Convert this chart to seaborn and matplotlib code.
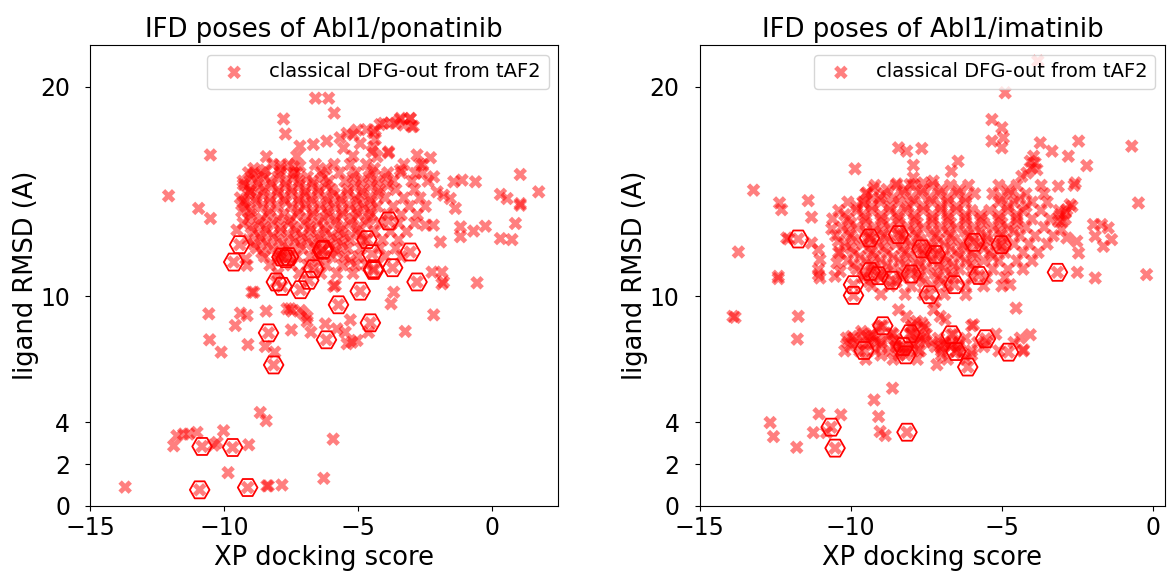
import matplotlib
matplotlib.use("Agg")
import matplotlib.pyplot as plt
import numpy as np
import pandas as pd
import seaborn as sns

# ---------------- Abl1 / ponatinib ----------------
# isolated poses: (XP docking score, ligand RMSD)
pona_scattered = [
    (-13.7, 0.9), (-11.77, 3.35), (-11.52, 3.43), (-11.33, 3.43), (-11.02, 3.51),
    (-10.03, 3.59), (-11.89, 2.87), (-10.27, 3.03), (-10.4, 2.9), (-9.09, 2.92),
    (-8.66, 4.46), (-8.44, 4.07), (-5.94, 3.19), (-9.86, 1.59), (-6.29, 1.32),
    (-8.41, 0.96), (-8.36, 0.96), (-7.85, 1.0),
    (-10.58, 9.17), (-9.59, 8.61), (-9.40, 9.20), (-9.15, 9.09), (-8.97, 10.2),
    (-8.44, 9.30), (-10.55, 7.93), (-10.12, 7.34), (-9.12, 7.70), (-8.47, 7.61),
    (-8.12, 7.34), (-7.66, 9.41), (-7.48, 9.3), (-7.16, 9.33), (-7.50, 8.40),
    (-6.91, 9.01), (-6.91, 8.8), (-6.77, 8.29), (-6.23, 8.69), (-5.86, 10.53),
    (-5.80, 8.45), (-5.49, 8.29), (-5.30, 8.88), (-5.24, 7.81), (-5.05, 7.9),
    (-4.62, 8.29), (-3.78, 9.65), (-3.68, 10.2), (-3.25, 8.33), (-2.19, 9.12),
    (-1.88, 10.6), (-0.57, 10.65), (-8.90, 10.2), (-5.92, 10.48), (-7.54, 9.41),
    (-7.04, 9.17), (-5.42, 7.74), (-2.25, 11.16), (-1.88, 11.16), (-1.82, 10.69),
    (-9.15, 11.48), (-9.2, 11.8), (-9.53, 13.16),
    (-12.08, 14.8), (-10.96, 14.2), (-10.52, 13.72), (-10.52, 16.75), (-8.43, 16.67),
    (-8.47, 16.03), (-7.91, 16.27), (-8.90, 15.87), (-7.41, 16.19), (-7.79, 18.47),
    (-7.72, 17.75), (-6.60, 19.46), (-6.11, 19.46), (-5.90, 18.75),
    (-3.43, 18.5), (-3.06, 18.5), (-3.62, 18.26), (-3.31, 18.18), (-3.0, 18.1),
    (-4.06, 18.26), (-5.05, 17.94), (-4.37, 17.94), (-4.37, 17.5), (-4.49, 16.9),
    (-4.30, 16.67), (-4.43, 17.14), (-4.93, 17.3), (-3.87, 16.9), (-2.81, 16.75),
    (-2.31, 16.62), (-3.43, 16.03), (-2.87, 15.87), (-2.19, 15.71), (-2.6, 16.3),
    (-1.13, 15.55), (-0.63, 15.47), (1.04, 15.82), (0.30, 14.87), (0.55, 14.67),
    (1.73, 14.99), (1.04, 14.43), (-1.44, 15.47), (-1.57, 14.67), (-1.38, 14.2),
    (-2.06, 14.99), (-1.82, 14.83), (-5.42, 17.78), (-5.55, 17.07), (-5.2, 16.7),
    (-2.5, 13.4), (-2.2, 13.4), (-1.94, 12.6), (-1.19, 13.32), (-1.19, 12.85),
    (-0.70, 13.12), (-0.26, 13.35), (0.30, 12.76), (0.73, 12.71), (0.86, 13.48),
    (1.04, 14.35),
    (-7.18, 17.17), (-6.68, 17.25), (-6.18, 17.41), (-5.68, 17.57), (-5.19, 17.72),
    (-4.69, 17.96), (-4.19, 18.2), (-3.82, 18.28), (-3.44, 18.44), (-3.07, 18.48),
    (-2.95, 18.12), (-4.44, 17.81), (-7.30, 16.69), (-7.18, 16.21), (-7.43, 15.9),
    (-3.88, 16.85), (-9.29, 15.34), (-9.04, 15.02), (-9.23, 14.54), (-9.35, 14.06),
]

# dense core of the pose cloud, row by row: (ligand RMSD, [XP docking scores])
pona_core_rows = [
    (16.3, [-8.2, -7.6, -6.6, -5.9, -5.3, -4.7, -3.3, -2.7]),
    (16.1, [-8.9, -7.9, -6.2, -4.4]),
    (15.9, [-9.1, -8.6, -7.9, -7.3, -6.4, -5.7, -5.1, -4.5, -3.9, -3.4, -2.6]),
    (15.7, [-9.0, -8.5, -8.0, -7.4, -6.9, -6.3, -5.2, -4.6, -4.0]),
    (15.5, [-9.3, -8.8, -8.3, -7.7, -7.2, -6.7, -6.1, -5.5, -4.9, -4.3, -3.7, -3.0, -2.4]),
    (15.3, [-9.2, -8.7, -8.2, -7.7, -7.2, -6.7, -6.2, -5.1, -4.5, -3.9]),
    (15.1, [-9.0, -8.5, -8.0, -7.5, -7.0, -6.5, -6.0, -5.4, -4.8, -4.2, -3.6, -2.9]),
    (14.9, [-9.1, -8.6, -8.0, -7.5, -7.0, -6.5, -5.9, -5.4, -4.9, -4.3]),
    (14.7, [-9.4, -8.8, -8.3, -7.8, -7.2, -6.8, -6.2, -5.7, -5.1, -4.6, -4.0, -3.3, -2.7]),
    (14.5, [-9.3, -8.8, -8.3, -7.7, -7.2, -6.7, -6.1, -5.6, -5.0, -4.5]),
    (14.3, [-9.2, -8.6, -8.0, -7.5, -7.0, -6.4, -5.9, -5.3, -4.8, -4.3, -3.7, -3.1, -2.5]),
    (14.1, [-9.0, -8.3, -7.2, -6.7, -6.2, -5.6, -5.1, -4.6]),
    (13.9, [-9.0, -8.4, -7.8, -7.3, -6.7, -6.1, -5.6, -5.0, -4.5, -3.9, -3.4, -2.8]),
    (13.7, [-9.1, -8.6, -8.0, -7.5, -6.9, -6.3, -5.8, -5.2, -4.6]),
    (13.5, [-9.3, -8.7, -8.2, -7.6, -7.0, -6.5, -5.9, -5.3, -4.7, -4.2, -3.5, -2.9]),
    (13.3, [-9.0, -8.5, -7.9, -7.4, -6.8, -6.3, -5.6, -5.0]),
    (13.1, [-8.9, -8.4, -7.9, -7.3, -6.8, -6.2, -5.7, -5.1, -4.4, -3.8, -3.2]),
    (12.9, [-8.7, -8.2, -7.6, -7.1, -6.5, -6.0, -5.5, -4.9]),
    (12.7, [-9.1, -8.6, -8.0, -7.4, -6.9, -6.4, -5.8, -5.3, -4.8, -4.1, -3.5]),
    (12.5, [-8.9, -8.4, -7.8, -7.2, -6.7, -6.1, -5.6]),
    (12.3, [-8.8, -8.2, -7.6, -7.1, -6.6, -5.9, -5.4, -4.9, -4.2, -3.6]),
    (12.1, [-8.6, -7.9, -6.4, -5.8]),
    (11.9, [-8.5, -8.0, -7.3, -6.8, -6.0, -5.5, -5.0, -4.0, -3.4]),
    (11.7, [-8.0, -6.5, -5.3]),
    (11.5, [-8.3, -7.5, -6.9, -6.2, -5.6, -5.1, -4.7]),
    (11.1, [-8.0, -7.2, -6.4, -5.8, -5.2]),
]

# poses highlighted with hexagons
pona_marked = [
    (-10.83, 2.84), (-9.69, 2.79), (-10.92, 0.77), (-9.13, 0.88),
    (-9.43, 12.47), (-9.65, 11.64), (-7.85, 11.88), (-7.70, 11.8), (-7.6, 11.9),
    (-8.06, 10.69), (-7.85, 10.48), (-6.67, 11.32), (-6.85, 10.77), (-7.16, 10.32),
    (-6.34, 12.2), (-6.3, 12.25), (-5.74, 9.6), (-6.19, 7.93), (-8.35, 8.26),
    (-8.16, 6.73), (-3.87, 13.6), (-4.68, 12.71), (-3.06, 12.12), (-4.49, 12.04),
    (-4.43, 11.32), (-4.43, 11.24), (-3.72, 11.37), (-2.81, 10.69), (-4.93, 10.25),
    (-4.55, 8.74),
]

# ---------------- Abl1 / imatinib ----------------
imat_scattered = [
    (-13.83, 9.0), (-13.9, 9.05), (-12.40, 10.85), (-11.74, 9.05), (-11.77, 7.96),
    (-11.07, 11.04), (-12.67, 3.98), (-12.56, 3.31), (-11.79, 2.80), (-11.05, 4.40),
    (-11.24, 3.50), (-10.8, 3.5), (-10.33, 4.35), (-9.23, 5.06), (-8.62, 5.62),
    (-9.08, 4.27), (-9.03, 3.55), (-8.86, 3.36),
    (-10.14, 8.01), (-9.97, 8.09), (-9.64, 8.33), (-9.47, 8.09), (-9.52, 7.69),
    (-9.30, 8.09), (-9.14, 7.85), (-9.1, 8.5), (-8.64, 8.25), (-8.42, 9.36),
    (-8.15, 9.05), (-8.53, 7.93), (-8.37, 7.61), (-8.26, 7.37), (-7.98, 8.57),
    (-7.82, 8.81), (-7.65, 8.73), (-7.54, 8.49), (-7.87, 8.09), (-7.71, 8.01),
    (-7.54, 7.85), (-7.98, 7.61), (-7.76, 7.45), (-7.26, 9.36), (-7.21, 9.76),
    (-7.04, 9.05), (-6.88, 8.89), (-7.15, 6.74), (-7.04, 7.61), (-6.88, 7.69),
    (-6.66, 7.77), (-6.44, 7.61), (-6.33, 7.30), (-5.94, 8.65), (-6.0, 7.21),
    (-5.5, 7.8), (-4.39, 8.01), (-4.06, 8.17), (-4.28, 7.45), (-4.53, 9.44),
    (-6.19, 10.08), (-4.73, 10.56), (-1.91, 10.88), (-0.21, 11.04), (-2.50, 11.15),
    (-3.81, 21.23), (-4.89, 19.72), (-5.33, 18.44), (-5.0, 18.05), (-4.95, 17.57),
    (-5.33, 17.41), (-5.0, 17.09), (-3.73, 17.33), (-3.34, 16.93), (-2.46, 17.41),
    (-2.80, 16.69), (-2.19, 16.24), (-0.70, 17.17), (-0.48, 14.46), (-2.57, 15.42),
    (-2.61, 15.3), (-3.13, 15.26), (-2.68, 14.3), (-2.90, 13.98), (-3.01, 13.58),
    (-1.97, 13.43), (-1.70, 13.43), (-1.48, 13.27), (-1.37, 12.71), (-1.91, 12.87),
    (-1.64, 12.39), (-3.95, 16.69), (-3.90, 16.37), (-4.01, 16.13), (-4.17, 15.89),
    (-4.34, 15.73), (-4.06, 16.45), (-3.84, 16.05),
    (-13.22, 15.07), (-13.72, 12.12), (-12.36, 14.46), (-12.29, 14.14), (-11.41, 14.57),
    (-11.30, 13.78), (-9.86, 16.09), (-8.42, 17.09), (-8.15, 16.93), (-7.65, 17.06),
    (-7.93, 16.26), (-7.93, 15.66), (-8.04, 15.34), (-8.48, 15.37), (-9.25, 15.15),
    (-9.47, 14.94), (-9.03, 14.7), (-9.58, 14.46), (-7.60, 15.42), (-7.27, 15.5),
    (-6.45, 16.45), (-6.67, 15.97), (-10.63, 13.22), (-12.06, 12.74), (-12.40, 10.96),
    (-12.12, 12.79), (-11.07, 12.23), (-11.02, 11.75), (-11.07, 11.28), (-11.02, 10.88),
    (-11.30, 12.55), (-10.41, 12.63), (-10.35, 12.07), (-10.46, 11.6), (-10.35, 11.19),
    (-10.52, 10.96), (-2.74, 14.38), (-2.85, 14.14), (-3.07, 13.9), (-3.13, 13.58),
    (-3.02, 13.19), (-2.85, 12.79), (-2.52, 12.63), (-2.46, 12.07),
]

imat_core_rows = [
    (15.3, [-9.2, -8.5, -7.9, -7.3, -6.7, -6.1, -5.1, -4.5, -3.7]),
    (15.1, [-8.8, -8.2, -7.6, -7.0, -6.4, -4.8]),
    (14.9, [-9.5, -8.9, -8.3, -7.7, -7.1, -6.5, -5.9, -5.3, -4.7, -4.2, -3.6]),
    (14.7, [-9.3, -8.6, -8.0, -7.4, -6.8, -6.2, -5.0, -4.4]),
    (14.5, [-10.1, -9.6, -9.0, -8.4, -7.9, -7.3, -6.8, -6.2, -5.1, -4.6, -4.0, -3.5]),
    (14.3, [-9.8, -9.3, -8.7, -8.1, -7.6, -7.0, -6.5, -4.8, -4.2]),
    (14.1, [-10.4, -9.8, -9.3, -8.7, -8.2, -7.6, -7.0, -6.5, -6.0, -5.4, -4.8, -4.3, -3.7, -3.1]),
    (13.9, [-10.2, -9.6, -9.0, -8.5, -7.9, -7.3, -6.8, -6.2, -5.7, -5.1, -4.5]),
    (13.7, [-10.6, -10.1, -9.5, -9.0, -8.4, -7.9, -7.3, -6.8, -6.2, -5.7, -5.1, -4.5, -4.0, -3.4, -2.9]),
    (13.5, [-10.0, -9.5, -8.9, -8.4, -7.8, -7.3, -6.7, -6.2, -5.6, -5.0, -4.5]),
    (13.3, [-10.3, -9.8, -9.2, -8.7, -8.1, -7.6, -7.0, -6.5, -5.9, -5.3, -4.8, -4.2, -3.6]),
    (13.1, [-10.1, -9.5, -9.0, -8.4, -7.9, -7.3, -6.8, -6.2, -5.7, -5.1, -4.6]),
    (12.9, [-10.5, -10.0, -9.4, -8.9, -8.3, -7.8, -7.2, -6.7, -6.1, -5.5, -5.0, -4.4, -3.9, -3.3]),
    (12.7, [-9.9, -9.3, -8.8, -8.2, -7.7, -7.1, -6.6, -6.0, -5.5, -4.9]),
    (12.5, [-10.2, -9.6, -9.1, -8.5, -8.0, -7.4, -6.9, -6.3, -5.7, -5.2, -4.6, -4.1, -3.5]),
    (12.3, [-10.0, -9.4, -8.9, -8.3, -7.8, -7.3, -6.7, -6.2, -5.6, -5.0]),
    (12.1, [-10.4, -9.9, -9.3, -8.8, -8.2, -7.6, -7.1, -6.5, -6.0, -5.4, -4.9, -4.3, -3.8]),
    (11.9, [-9.7, -9.2, -8.6, -8.1, -7.5, -6.9, -6.4, -5.9, -5.3]),
    (11.7, [-10.1, -9.5, -9.0, -8.4, -7.8, -7.3, -6.8, -6.2, -5.6, -5.1, -4.5, -4.0]),
    (11.5, [-9.9, -9.3, -8.8, -8.2, -7.7, -7.1, -6.6, -6.0]),
    (11.3, [-9.8, -9.2, -8.6, -8.0, -7.5, -6.9, -6.4, -5.9, -5.3, -4.8, -4.3]),
    (11.1, [-9.5, -8.9, -8.3, -7.8, -7.2, -6.7]),
    (10.9, [-9.6, -9.0, -8.3, -7.7, -7.1, -6.6, -6.0, -5.5, -4.9]),
    (10.7, [-9.4, -8.5, -7.6, -7.0]),
    (10.5, [-9.3, -8.7, -8.0, -7.3, -6.8, -6.2, -5.6, -5.0]),
    (10.1, [-9.0, -8.2, -7.6, -6.9]),
    (8.6, [-9.0, -8.0, -7.6, -6.0]),
    (8.2, [-9.6, -9.3, -8.6, -8.0, -7.5, -6.6, -5.2]),
    (8.0, [-9.9, -9.2, -8.8, -7.6, -7.1, -6.2]),
    (7.8, [-10.1, -9.8, -9.4, -9.0, -8.5, -7.9, -7.3, -6.9, -6.4, -5.8, -4.6]),
    (7.6, [-10.0, -9.0, -8.5, -7.2, -6.7, -5.6]),
    (7.4, [-10.2, -9.7, -9.2, -8.7, -8.1, -7.7, -7.0, -6.5, -6.0, -5.1, -4.3]),
    (7.2, [-9.0, -8.4, -7.0]),
    (7.0, [-9.5, -8.6, -7.8, -6.8, -6.2]),
]

imat_marked = [
    (-11.74, 12.74), (-9.38, 12.79), (-8.42, 12.95), (-7.65, 12.27), (-7.2, 12.0),
    (-5.91, 12.58), (-5.02, 12.47), (-9.36, 11.19), (-9.09, 10.99), (-8.64, 10.77),
    (-8.0, 11.07), (-9.91, 10.56), (-9.91, 10.05), (-7.40, 10.08), (-6.57, 10.56),
    (-5.76, 11.0), (-3.16, 11.15), (-8.94, 8.60), (-9.56, 7.42), (-8.04, 8.22),
    (-8.26, 7.61), (-8.18, 7.21), (-6.67, 8.17), (-6.52, 7.37), (-6.13, 6.63),
    (-5.54, 7.98), (-4.78, 7.34), (-10.65, 3.76), (-10.52, 2.76), (-8.14, 3.52),
]

titles = ["IFD poses of Abl1/ponatinib", "IFD poses of Abl1/imatinib"]
x_limits = [(-15, 2.46), (-15, 0.4)]
y_ticks = [0, 2, 4, 10, 20]
x_ticks = [-15, -10, -5, 0]
legend_label = "classical DFG-out from tAF2"


def pose_frame(scattered, core_rows, marked):
    pts = list(scattered) + [(x, y) for y, xs in core_rows for x in xs] + list(marked)
    return pd.DataFrame(pts, columns=["score", "rmsd"])


panels = [
    (pose_frame(pona_scattered, pona_core_rows, pona_marked),
     pd.DataFrame(pona_marked, columns=["score", "rmsd"])),
    (pose_frame(imat_scattered, imat_core_rows, imat_marked),
     pd.DataFrame(imat_marked, columns=["score", "rmsd"])),
]

fig = plt.figure(figsize=(11.67, 5.77), dpi=100)
axes = [fig.add_axes([0.0774, 0.1231, 0.4010, 0.7990]),
        fig.add_axes([0.5996, 0.1231, 0.3987, 0.7990])]

for ax, (poses, marked), title, xlim in zip(axes, panels, titles, x_limits):
    sns.scatterplot(data=poses, x="score", y="rmsd", ax=ax, marker="X", s=95,
                    color="red", alpha=0.5, edgecolor="none", linewidth=0,
                    label=legend_label)
    sns.scatterplot(data=marked, x="score", y="rmsd", ax=ax, marker="H", s=200,
                    color="red", facecolor="none", edgecolor="red", linewidth=1.3)
    ax.set_xlim(*xlim)
    ax.set_ylim(0, 22)
    ax.set_yticks(y_ticks)
    ax.set_xticks(x_ticks)
    ax.tick_params(labelsize=17)
    ax.tick_params(axis="y", pad=11)
    ax.set_xlabel("XP docking score", fontsize=18.5)
    ax.set_ylabel("ligand RMSD (A)", fontsize=18.5, labelpad=1)
    ax.set_title(title, fontsize=18.7)
    ax.legend(loc="upper right", fontsize=14)

fig.savefig("out.png", dpi=100)
